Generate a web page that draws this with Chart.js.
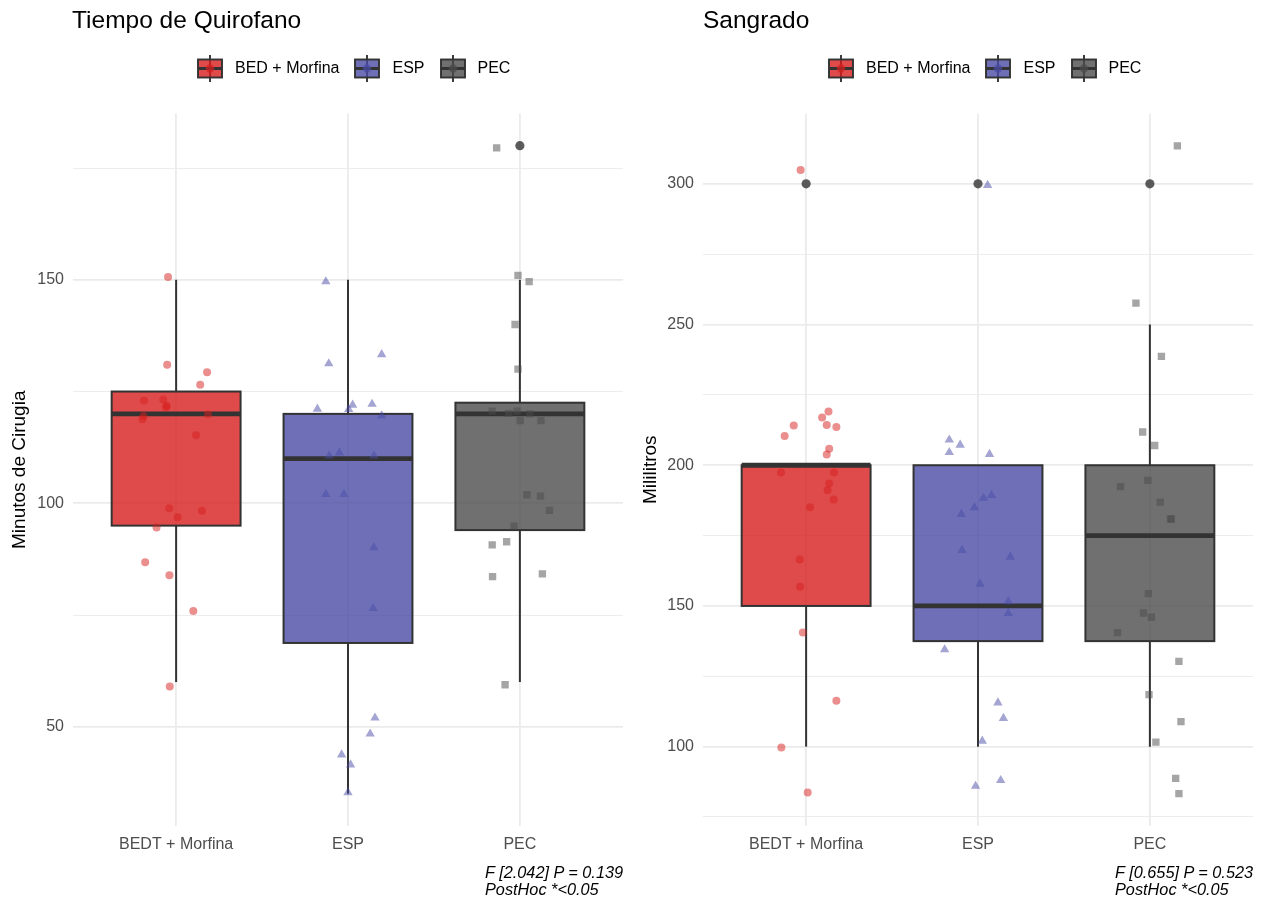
<!DOCTYPE html>
<html>
<head>
<meta charset="utf-8">
<script src="https://cdn.jsdelivr.net/npm/chart.js@4.4.1/dist/chart.umd.min.js"></script>
<style>
  body { margin: 0; background: #fff; font-family: "Liberation Sans", Arial, sans-serif; }
  #lienzo { position: relative; width: 1264px; height: 901px; overflow: hidden; }
  #lienzo canvas { position: absolute; top: 0; }
  .titulo { position: absolute; top: 6px; font-size: 24.5px; line-height: 28px; color: #000; white-space: nowrap; }
  .leyenda { position: absolute; top: 54px; height: 28px; display: flex; align-items: center; font-size: 16px; color: #000; white-space: nowrap; }
  .leyenda svg { margin-right: 12px; }
  .leyenda span { margin-right: 15px; }
  .nota { position: absolute; top: 864px; font-size: 16.3px; line-height: 17px; font-style: italic; color: #000; text-align: left; white-space: nowrap; }
</style>
</head>
<body>
<div id="lienzo">
  <canvas id="grafTiempo" width="632" height="901" style="left:0"></canvas>
  <canvas id="grafSangrado" width="632" height="901" style="left:632px"></canvas>
  <div class="titulo" style="left:72px">Tiempo de Quirofano</div>
  <div class="titulo" style="left:703px">Sangrado</div>
  <div class="leyenda" id="leyTiempo" style="left:197px"></div>
  <div class="leyenda" id="leySangrado" style="left:828px"></div>
  <div class="nota" style="left:485px">F [2.042] P = 0.139<br>PostHoc *&lt;0.05</div>
  <div class="nota" style="left:1115px">F [0.655] P = 0.523<br>PostHoc *&lt;0.05</div>
</div>
<script>
// ── datos ───────────────────────────────────────────────────────────────────
var categorias = ["BEDT + Morfina", "ESP", "PEC"];
var leyenda    = ["BED + Morfina", "ESP", "PEC"];
var colores    = ["215,30,30", "74,75,165", "76,76,76"];
var formas     = ["circle", "triangle", "rect"];
var radios     = [4, 5.4, 5.2];
var ANCHO_CAJA = 0.75;

// Tiempo de quirofano (minutos)
var tqInferior = [60, 35, 60];
var tqQ1       = [95, 68.75, 94];
var tqMediana  = [120, 110, 120];
var tqQ3       = [125, 120, 122.5];
var tqSuperior = [150, 150, 150];
var tqAtipX    = [3];
var tqAtipY    = [180];
var tqTicks    = [50, 75, 100, 125, 150, 175];
var tqEtiq     = [50, 100, 150];

var tqBedtX = [0.953, 0.948, 1.18, 1.14, 0.813, 0.925, 0.942, 0.945, 0.81, 0.804, 1.185, 1.116, 0.96, 1.009, 1.15, 0.886, 0.82, 0.961, 1.10, 0.963];
var tqBedtY = [150.6, 131.0, 129.3, 126.5, 123.0, 123.2, 121.5, 121.8, 119.5, 118.8, 119.9, 115.2, 98.9, 96.9, 98.3, 94.6, 86.8, 83.9, 75.9, 59.0];
var tqEspX  = [1.871, 1.888, 2.196, 1.822, 2.027, 2.14, 2.004, 2.196, 1.891, 1.95, 2.151, 1.871, 1.976, 2.15, 2.146, 2.157, 2.129, 1.963, 2.015, 2.0];
var tqEspY  = [149.6, 131.25, 133.3, 121.1, 122.0, 122.2, 121.0, 119.6, 110.6, 111.3, 110.6, 102.0, 102.0, 90.1, 76.5, 52.0, 48.4, 43.75, 41.5, 35.3];
var tqPecX  = [2.865, 2.989, 3.054, 2.972, 2.989, 2.839, 2.935, 2.983, 3.058, 3.002, 3.123, 3.041, 3.12, 3.172, 2.966, 2.839, 2.923, 2.841, 3.131, 2.914];
var tqPecY  = [179.5, 151.0, 149.6, 140.0, 130.0, 120.6, 120.1, 120.6, 120.0, 118.5, 118.5, 101.9, 101.6, 98.4, 94.9, 90.7, 91.4, 83.6, 84.2, 59.4];

// Sangrado (mililitros)
var sgInferior = [100, 100, 100];
var sgQ1       = [150, 137.5, 137.5];
var sgMediana  = [200, 150, 175];
var sgQ3       = [200, 200, 200];
var sgSuperior = [200, 200, 250];
var sgAtipX    = [1, 2, 3];
var sgAtipY    = [300, 300, 300];
var sgTicks    = [75, 100, 125, 150, 175, 200, 225, 250, 275, 300];
var sgEtiq     = [100, 150, 200, 250, 300];

var sgBedtX = [0.968, 0.875, 0.928, 1.13, 1.093, 1.12, 1.176, 1.134, 1.12, 0.854, 1.162, 1.134, 1.125, 1.16, 1.023, 0.963, 0.965, 0.981, 1.176, 0.856, 1.009];
var sgBedtY = [304.9, 210.4, 214.1, 219.1, 217.0, 214.3, 213.6, 205.9, 203.8, 197.4, 197.4, 193.5, 191.1, 187.8, 185.1, 166.5, 156.8, 140.6, 116.3, 99.7, 83.7];
var sgEspX  = [2.056, 1.833, 1.896, 1.833, 2.067, 2.079, 2.032, 1.979, 1.903, 1.907, 2.188, 2.012, 2.176, 2.176, 1.806, 2.116, 2.148, 2.025, 2.132, 1.986];
var sgEspY  = [299.5, 209.0, 207.2, 204.6, 203.9, 189.3, 188.3, 185.0, 182.6, 169.8, 167.4, 157.8, 151.6, 147.4, 134.5, 115.6, 110.1, 102.0, 88.0, 86.0];
var sgPecX  = [3.16, 2.919, 3.067, 2.958, 3.028, 2.829, 2.988, 3.06, 3.12, 3.125, 2.991, 2.963, 3.009, 2.812, 3.169, 2.995, 3.181, 3.035, 3.15, 3.169];
var sgPecY  = [313.5, 257.6, 238.7, 211.8, 207.0, 192.4, 194.6, 186.9, 180.9, 180.9, 154.4, 147.5, 146.0, 140.5, 130.3, 118.5, 108.9, 101.6, 88.7, 83.3];

// ── utilidades ──────────────────────────────────────────────────────────────
var FUENTE = "'Liberation Sans', Arial, sans-serif";

function puntos(xs, ys) {
  return xs.map(function(x, i) { return { x: x, y: ys[i] }; });
}

function glifo(i) {
  var c = colores[i];
  return '<svg width="26" height="27" viewBox="0 0 26 27">' +
    '<line x1="13" y1="0" x2="13" y2="27" stroke="#333" stroke-width="1.9"/>' +
    '<rect x="1" y="4.5" width="24" height="18" fill="rgba(' + c + ',0.8)" stroke="#333" stroke-width="1.9"/>' +
    '<line x1="1" y1="13.5" x2="25" y2="13.5" stroke="#333" stroke-width="3"/>' +
    '<circle cx="13" cy="13.5" r="4.2" fill="rgba(' + c + ',0.7)"/>' +
    '</svg>';
}

function pintarLeyenda(id) {
  document.getElementById(id).innerHTML = leyenda.map(function(t, i) {
    return glifo(i) + "<span>" + t + "</span>";
  }).join("");
}

// cajas + bigotes dibujados con las escalas del gráfico
function pluginCajas(caja) {
  return {
    id: "cajas",
    beforeDatasetsDraw: function(chart) {
      var ctx = chart.ctx, sx = chart.scales.x, sy = chart.scales.y;
      ctx.save();
      for (var i = 0; i < categorias.length; i++) {
        var cx   = sx.getPixelForValue(i + 1);
        var x0   = sx.getPixelForValue(i + 1 - ANCHO_CAJA / 2);
        var x1   = sx.getPixelForValue(i + 1 + ANCHO_CAJA / 2);
        var yLo  = sy.getPixelForValue(caja.inf[i]);
        var yQ1  = sy.getPixelForValue(caja.q1[i]);
        var yMed = sy.getPixelForValue(caja.med[i]);
        var yQ3  = sy.getPixelForValue(caja.q3[i]);
        var yUp  = sy.getPixelForValue(caja.sup[i]);

        ctx.strokeStyle = "#333333";
        ctx.lineWidth = 2;
        ctx.beginPath();
        ctx.moveTo(cx, yUp); ctx.lineTo(cx, yQ3);
        ctx.moveTo(cx, yQ1); ctx.lineTo(cx, yLo);
        ctx.stroke();

        ctx.fillStyle = "rgba(" + colores[i] + ",0.8)";
        ctx.fillRect(x0, yQ3, x1 - x0, yQ1 - yQ3);
        ctx.strokeRect(x0, yQ3, x1 - x0, yQ1 - yQ3);

        ctx.lineWidth = 4.8;
        ctx.beginPath();
        ctx.moveTo(x0, yMed); ctx.lineTo(x1, yMed);
        ctx.stroke();
      }
      ctx.restore();
    }
  };
}

function crearPanel(id, p) {
  var datasets = [
    { data: puntos(p.atipX, p.atipY), order: 5, pointStyle: "circle", pointRadius: 4.6,
      backgroundColor: "rgba(51,51,51,0.8)", borderColor: "rgba(51,51,51,0.8)", borderWidth: 0 }
  ];
  p.series.forEach(function(s, i) {
    datasets.push({
      data: puntos(s[0], s[1]), order: 0, pointStyle: formas[i],
      pointRadius: radios[i], pointHoverRadius: 0,
      backgroundColor: "rgba(" + colores[i] + ",0.5)", borderWidth: 0
    });
  });

  return new Chart(document.getElementById(id), {
    type: "scatter",
    data: { datasets: datasets },
    options: {
      responsive: false, animation: false, events: [],
      layout: { padding: { top: 113.5, right: p.derecha, bottom: 0, left: 0 } },
      plugins: { legend: { display: false }, tooltip: { enabled: false } },
      scales: {
        x: {
          type: "linear", min: 0.4, max: 3.6,
          afterBuildTicks: function(s) { s.ticks = [1, 2, 3].map(function(v) { return { value: v }; }); },
          afterFit: function(s) { s.height = 75; },
          border: { display: false },
          grid: { color: "#EBEBEB", lineWidth: 1.8, drawTicks: false },
          ticks: {
            padding: 9, color: "#4D4D4D", autoSkip: false, maxRotation: 0,
            font: { size: 16, family: FUENTE },
            callback: function(v) { return categorias[v - 1]; }
          }
        },
        y: {
          min: p.min, max: p.max,
          afterBuildTicks: function(s) { s.ticks = p.ticks.map(function(v) { return { value: v }; }); },
          afterFit: function(s) { s.width = p.anchoY; },
          border: { display: false },
          grid: {
            color: "#EBEBEB", drawTicks: false,
            lineWidth: function(c) { return p.etiq.indexOf(c.tick.value) >= 0 ? 1.8 : 0.9; }
          },
          ticks: {
            padding: 9, color: "#4D4D4D", font: { size: 16, family: FUENTE },
            callback: function(v) { return p.etiq.indexOf(v) >= 0 ? String(v) : ""; }
          },
          title: {
            display: true, text: p.tituloY, color: "#000",
            font: { size: 19, family: FUENTE }, padding: { top: p.padTitulo, bottom: 0 }
          }
        }
      }
    },
    plugins: [pluginCajas(p.caja)]
  });
}

// ── render ──────────────────────────────────────────────────────────────────
pintarLeyenda("leyTiempo");
pintarLeyenda("leySangrado");

crearPanel("grafTiempo", {
  min: 27.8, max: 187.2, ticks: tqTicks, etiq: tqEtiq,
  anchoY: 73, derecha: 9, padTitulo: 8, tituloY: "Minutos de Cirugia",
  atipX: tqAtipX, atipY: tqAtipY,
  caja: { inf: tqInferior, q1: tqQ1, med: tqMediana, q3: tqQ3, sup: tqSuperior },
  series: [[tqBedtX, tqBedtY], [tqEspX, tqEspY], [tqPecX, tqPecY]]
});

crearPanel("grafSangrado", {
  min: 71.8, max: 325, ticks: sgTicks, etiq: sgEtiq,
  anchoY: 71, derecha: 11, padTitulo: 7, tituloY: "Mililitros",
  atipX: sgAtipX, atipY: sgAtipY,
  caja: { inf: sgInferior, q1: sgQ1, med: sgMediana, q3: sgQ3, sup: sgSuperior },
  series: [[sgBedtX, sgBedtY], [sgEspX, sgEspY], [sgPecX, sgPecY]]
});
</script>
</body>
</html>
